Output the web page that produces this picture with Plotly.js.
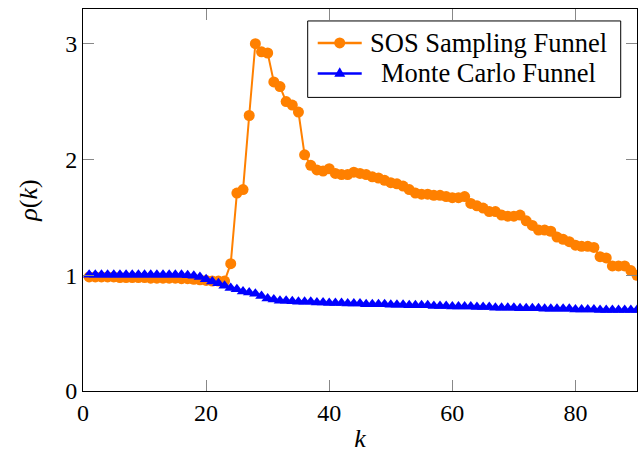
<!DOCTYPE html>
<html>
<head>
<meta charset="utf-8">
<script src="https://cdn.plot.ly/plotly-3.0.1.min.js"></script>
<style>
html,body{margin:0;padding:0;background:#fff;}
#chart{width:639px;height:453px;}
</style>
</head>
<body>
<div id="chart"></div>
<script>
const kValues = [1,2,3,4,5,6,7,8,9,10,11,12,13,14,15,16,17,18,19,20,
  21,22,23,24,25,26,27,28,29,30,31,32,33,34,35,36,37,38,39,40,
  41,42,43,44,45,46,47,48,49,50,51,52,53,54,55,56,57,58,59,60,
  61,62,63,64,65,66,67,68,69,70,71,72,73,74,75,76,77,78,79,80,
  81,82,83,84,85,86,87,88,89,90];

const sosValues = [0.985,0.985,0.985,0.985,0.985,0.98,0.98,0.98,0.98,0.98,
  0.975,0.975,0.975,0.975,0.975,0.97,0.97,0.965,0.96,0.955,
  0.95,0.95,0.95,1.10,1.71,1.74,2.38,3.00,2.93,2.92,
  2.67,2.63,2.50,2.47,2.41,2.04,1.95,1.91,1.90,1.92,
  1.88,1.87,1.87,1.89,1.88,1.87,1.85,1.84,1.82,1.80,
  1.79,1.77,1.74,1.71,1.70,1.70,1.69,1.69,1.68,1.67,
  1.67,1.68,1.62,1.60,1.58,1.55,1.55,1.52,1.51,1.51,
  1.52,1.47,1.43,1.39,1.39,1.38,1.33,1.31,1.29,1.26,
  1.25,1.25,1.24,1.16,1.15,1.08,1.08,1.08,1.04,1.00];

const mcValues = [1.005,1.005,1.005,1.005,1.005,1.005,1.005,1.005,1.005,1.005,
  1.005,1.005,1.005,1.005,1.005,1.005,1.0,0.995,0.985,0.965,
  0.945,0.93,0.91,0.89,0.88,0.86,0.85,0.84,0.82,0.80,
  0.79,0.78,0.78,0.775,0.77,0.77,0.77,0.765,0.765,0.76,
  0.76,0.76,0.755,0.755,0.755,0.75,0.75,0.75,0.75,0.745,
  0.745,0.745,0.74,0.74,0.74,0.74,0.735,0.735,0.735,0.73,
  0.73,0.73,0.73,0.725,0.725,0.725,0.72,0.72,0.72,0.72,
  0.715,0.715,0.715,0.715,0.71,0.71,0.71,0.71,0.71,0.705,
  0.705,0.705,0.705,0.70,0.70,0.70,0.70,0.70,0.70,0.70];

const seriesNames = ["SOS Sampling Funnel", "Monte Carlo Funnel"];
const seriesColors = ["#ff8000", "#0000ff"];
const xTicks = [0,20,40,60,80];
const yTicks = [0,1,2,3];

const FONT = "Liberation Serif";

const traces = [
  {
    x: kValues, y: sosValues, name: seriesNames[0],
    type: "scatter", mode: "lines+markers",
    line: {color: seriesColors[0], width: 2},
    marker: {symbol: "circle", size: 11, color: seriesColors[0]},
    cliponaxis: true, showlegend: false
  },
  {
    x: kValues, y: mcValues, name: seriesNames[1],
    type: "scatter", mode: "lines+markers",
    line: {color: seriesColors[1], width: 2},
    marker: {symbol: "triangle-up", size: 11, color: seriesColors[1]},
    cliponaxis: true, showlegend: false
  }
];

// Custom legend (box, sample lines, symbols, centred labels) in paper coordinates
const legBox = {x0: 0.4056, x1: 0.9706, y0: 0.7686, y1: 0.9687};
const legRows = [0.9112, 0.8312];
const legLine = {x0: 0.4237, x1: 0.5031, xm: 0.4634};
const legTextX = 0.7314;

const shapes = [
  {type: "rect", xref: "paper", yref: "paper", x0: legBox.x0, x1: legBox.x1, y0: legBox.y0, y1: legBox.y1,
   line: {color: "#000", width: 1}, fillcolor: "#fff", layer: "above"},
  {type: "line", xref: "paper", yref: "paper", x0: legLine.x0, x1: legLine.x1, y0: legRows[0], y1: legRows[0],
   line: {color: seriesColors[0], width: 2.5}, layer: "above"},
  {type: "line", xref: "paper", yref: "paper", x0: legLine.x0, x1: legLine.x1, y0: legRows[1], y1: legRows[1],
   line: {color: seriesColors[1], width: 2.5}, layer: "above"},
  {type: "circle", xref: "paper", yref: "paper", xsizemode: "pixel", ysizemode: "pixel",
   xanchor: legLine.xm, yanchor: legRows[0], x0: -5.5, x1: 5.5, y0: -5.5, y1: 5.5,
   fillcolor: seriesColors[0], line: {color: seriesColors[0], width: 0}, layer: "above"},
  {type: "path", xref: "paper", yref: "paper", xsizemode: "pixel", ysizemode: "pixel",
   xanchor: legLine.xm, yanchor: legRows[1], path: "M-5.5,-3.2 L5.5,-3.2 L0,6.3 Z",
   fillcolor: seriesColors[1], line: {color: seriesColors[1], width: 0}, layer: "above"}
];

const annotations = [
  {xref: "paper", yref: "paper", x: legTextX, y: legRows[0], xanchor: "center", yanchor: "middle",
   text: seriesNames[0], showarrow: false, font: {family: FONT, size: 26.5, color: "#000"}},
  {xref: "paper", yref: "paper", x: legTextX, y: legRows[1], xanchor: "center", yanchor: "middle",
   text: seriesNames[1], showarrow: false, font: {family: FONT, size: 26.5, color: "#000"}}
];

const layout = {
  width: 639, height: 453,
  margin: {l: 83, r: 2, t: 9, b: 62},
  paper_bgcolor: "#fff", plot_bgcolor: "#fff",
  font: {family: FONT, size: 24, color: "#000"},
  showlegend: false,
  shapes: shapes,
  annotations: annotations,
  xaxis: {
    range: [0, 90], tickvals: xTicks, ticktext: xTicks.map(String),
    showgrid: false, zeroline: false,
    showline: true, linecolor: "#000", linewidth: 1, mirror: "ticks",
    ticks: "inside", ticklen: 11, tickcolor: "#888", tickwidth: 1,
    tickfont: {family: FONT, size: 24},
    title: {text: "<i>k</i>", font: {family: FONT, size: 26}, standoff: 10}
  },
  yaxis: {
    range: [0, 3.3], tickvals: yTicks, ticktext: yTicks.map(String),
    showgrid: false, zeroline: false,
    showline: true, linecolor: "#000", linewidth: 1, mirror: "ticks",
    ticks: "inside", ticklen: 11, tickcolor: "#888", tickwidth: 1,
    tickfont: {family: FONT, size: 24},
    title: {text: "<i>ρ</i>(<i>k</i>)", font: {family: FONT, size: 26}, standoff: 20}
  }
};

Plotly.newPlot("chart", traces, layout, {staticPlot: true, displayModeBar: false});
</script>
</body>
</html>
